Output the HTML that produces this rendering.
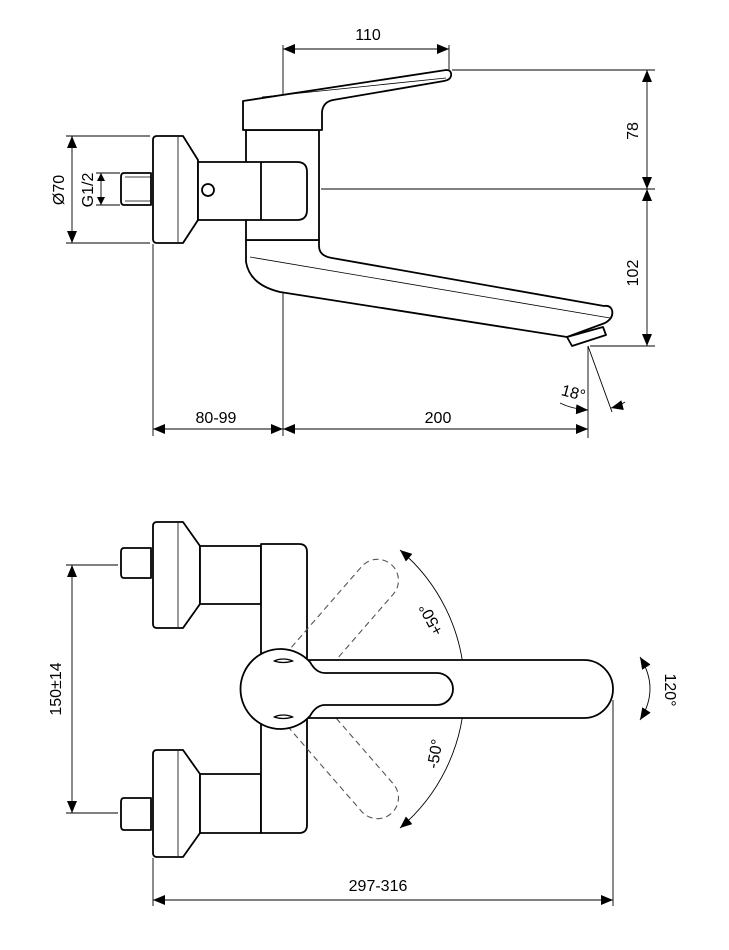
<!DOCTYPE html>
<html><head><meta charset="utf-8"><style>
html,body{margin:0;padding:0;background:#fff;}
svg{display:block;}
text{font-family:"Liberation Sans",Arial,sans-serif;font-size:16px;fill:#000;}
</style></head><body>
<svg width="729" height="950" viewBox="0 0 729 950" xmlns="http://www.w3.org/2000/svg">
<defs>
<marker id="a" markerUnits="userSpaceOnUse" markerWidth="13" markerHeight="10" refX="12" refY="5" orient="auto-start-reverse">
<path d="M0,0 L12,5 L0,10 z" fill="#000"/></marker>
<marker id="s" markerUnits="userSpaceOnUse" markerWidth="9" markerHeight="8" refX="8" refY="4" orient="auto-start-reverse">
<path d="M0,0 L8,4 L0,8 z" fill="#000"/></marker>
</defs>

<!-- ============ TOP VIEW (side) ============ -->
<g fill="none" stroke="#000" stroke-width="0.9">
 <line x1="283" y1="45" x2="283" y2="436"/>
 <line x1="449" y1="45" x2="449" y2="70"/>
 <line x1="283" y1="49" x2="449" y2="49" marker-start="url(#a)" marker-end="url(#a)"/>
 <line x1="452" y1="70" x2="655" y2="70"/>
 <line x1="321" y1="189" x2="655" y2="189"/>
 <line x1="590" y1="346" x2="655" y2="346"/>
 <line x1="647" y1="70" x2="647" y2="189" marker-start="url(#a)" marker-end="url(#a)"/>
 <line x1="647" y1="189" x2="647" y2="346" marker-start="url(#a)" marker-end="url(#a)"/>
 <line x1="66" y1="136" x2="150" y2="136"/>
 <line x1="66" y1="243" x2="150" y2="243"/>
 <line x1="72" y1="136" x2="72" y2="243" marker-start="url(#a)" marker-end="url(#a)"/>
 <line x1="96" y1="173" x2="120" y2="173"/>
 <line x1="96" y1="205" x2="120" y2="205"/>
 <line x1="101" y1="173" x2="101" y2="205" marker-start="url(#s)" marker-end="url(#s)"/>
 <line x1="153" y1="244" x2="153" y2="436"/>
 <line x1="588" y1="346" x2="588" y2="438"/>
 <line x1="153" y1="429" x2="283" y2="429" marker-start="url(#a)" marker-end="url(#a)"/>
 <line x1="283" y1="429" x2="588" y2="429" marker-start="url(#a)" marker-end="url(#a)"/>
 <line x1="588" y1="346" x2="612" y2="412"/>
 <path d="M560,403 Q572,409 588,410" marker-end="url(#a)"/>
 <path d="M625,402 Q619,406 611,408" marker-end="url(#a)"/>
</g>
<text x="368" y="40" text-anchor="middle">110</text>
<text transform="translate(638,131) rotate(-90)" text-anchor="middle">78</text>
<text transform="translate(638,273) rotate(-90)" text-anchor="middle">102</text>
<text transform="translate(64,190) rotate(-90)" text-anchor="middle">Ø70</text>
<text transform="translate(93,190) rotate(-90)" text-anchor="middle">G1/2</text>
<text x="216" y="423" text-anchor="middle">80-99</text>
<text x="438" y="423" text-anchor="middle">200</text>
<text transform="translate(572,398) rotate(15)" text-anchor="middle">18°</text>

<g fill="#fff" stroke="#000" stroke-width="1.8" stroke-linejoin="round">
 <path d="M151,173 L124,173 Q121,173 121,177 L121,201 Q121,205 124,205 L151,205 Z"/>
 <line x1="125" y1="177" x2="151" y2="177" stroke-width="0.8"/>
 <line x1="125" y1="201" x2="151" y2="201" stroke-width="0.8"/>
 <path d="M157,136 L183,136 L198,160 L198,220 L183,243 L157,243 Q153,243 153,239 L153,140 Q153,136 157,136 Z"/>
 <line x1="178" y1="137" x2="178" y2="242" stroke-width="0.8"/>
 <!-- spout -->
 <path d="M246,240 L246,262 Q250,285 280,292 L567,337 L605,323 Q614,318 612,310 Q610,305 604,306 L332,258 Q319,256 319,246 L319,240 Z"/>
 <line x1="250" y1="257" x2="610" y2="318" stroke-width="0.8"/>
 <path d="M567,337 L603,327 L606,335 L572,346 Z"/>
 <!-- column -->
 <rect x="246" y="130" width="73" height="110"/>
 <!-- neck + inner -->
 <path d="M198,162 L297,162 Q307,162 307,172 L307,210 Q307,220 297,220 L198,220 Z"/>
 <line x1="261" y1="162" x2="261" y2="220"/>
 <circle cx="208" cy="190" r="6"/>
 <!-- handle -->
 <path d="M243,101 L446,70 Q452,70 451,76 Q450,80 444,81 L333,100 Q323,102 322,112 L322,130 L243,130 Z"/>
 <line x1="262" y1="97" x2="446" y2="78" stroke-width="0.8"/>
</g>

<!-- ============ BOTTOM VIEW (front) ============ -->
<g fill="none" stroke="#000" stroke-width="0.9">
 <line x1="66" y1="565" x2="118" y2="565"/>
 <line x1="66" y1="813" x2="118" y2="813"/>
 <line x1="72" y1="565" x2="72" y2="813" marker-start="url(#a)" marker-end="url(#a)"/>
 <line x1="153" y1="858" x2="153" y2="906"/>
 <line x1="613" y1="700" x2="613" y2="906"/>
 <line x1="153" y1="900" x2="613" y2="900" marker-start="url(#a)" marker-end="url(#a)"/>
 <path d="M640,657 Q660,689 640,720" marker-start="url(#a)" marker-end="url(#a)"/>
</g>
<text transform="translate(61,689) rotate(-90)" text-anchor="middle">150±14</text>
<text x="378" y="891" text-anchor="middle">297-316</text>
<text transform="translate(665,690) rotate(90)" text-anchor="middle">120°</text>

<g fill="#fff" stroke="#000" stroke-width="1.8" stroke-linejoin="round">
 <path d="M151,548 L124,548 Q121,548 121,552 L121,574 Q121,578 124,578 L151,578 Z"/>
 <path d="M157,522 L183,522 L200,546 L200,604 L183,628 L157,628 Q153,628 153,624 L153,526 Q153,522 157,522 Z"/>
 <line x1="178" y1="523" x2="178" y2="627" stroke-width="0.8"/>
 <rect x="200" y="546" width="61" height="58"/>
 <path d="M151,798 L124,798 Q121,798 121,802 L121,826 Q121,830 124,830 L151,830 Z"/>
 <path d="M157,750 L183,750 L200,774 L200,833 L183,857 L157,857 Q153,857 153,853 L153,754 Q153,750 157,750 Z"/>
 <line x1="178" y1="751" x2="178" y2="856" stroke-width="0.8"/>
 <rect x="200" y="774" width="61" height="59"/>
 <path d="M261,544 L299,544 Q307,544 307,552 L307,825 Q307,833 299,833 L261,833 Z"/>
</g>
<g fill="none" stroke="#555" stroke-width="1.1" stroke-dasharray="6,4">
 <path transform="rotate(-49 283 689)" d="M300,668 L427,668 A21,21 0 0 1 427,710 L300,710"/>
 <path transform="rotate(49 283 689)" d="M300,668 L427,668 A21,21 0 0 1 427,710 L300,710"/>
</g>
<g fill="none" stroke="#000" stroke-width="0.9">
 <path d="M400,550 A182,182 0 0 1 400,828" marker-start="url(#a)" marker-end="url(#a)"/>
 <line x1="452" y1="689" x2="470" y2="689"/>
 <line x1="462" y1="674" x2="462" y2="688" marker-end="url(#s)"/>
 <line x1="462" y1="704" x2="462" y2="690" marker-end="url(#s)"/>
</g>
<text transform="translate(432,619) rotate(-118)" text-anchor="middle" dominant-baseline="middle">+50°</text>
<text transform="translate(436,754) rotate(-80)" text-anchor="middle" dominant-baseline="middle">-50°</text>

<g fill="#fff" stroke="#000" stroke-width="1.8" stroke-linejoin="round">
 <path d="M300,660 L584,660 A29,29 0 0 1 584,718 L300,718 Z"/>
 <path d="M325,673 L437,673 A16,16 0 0 1 437,705 L325,705 Q316,705 310,716 A40,40 0 1 1 310,662 Q316,673 325,673 Z"/>
 <path d="M274,661 Q283,657 293,661 Q283,664 274,661 Z" stroke-width="1.2"/>
 <path d="M274,717 Q283,713 293,717 Q283,720 274,717 Z" stroke-width="1.2"/>
</g>
</svg>
</body></html>
